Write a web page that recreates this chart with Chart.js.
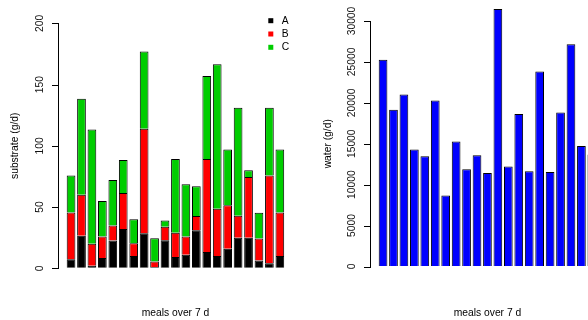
<!DOCTYPE html>
<html>
<head>
<meta charset="utf-8">
<script src="https://cdn.jsdelivr.net/npm/chart.js@4"></script>
<style>
  html, body { margin: 0; padding: 0; background: #fff; overflow: hidden; }
  body { width: 588px; height: 320px; position: relative; }
  .panel { position: absolute; top: 0; width: 294px; height: 320px; }
  #leftPanel { left: 0; }
  #rightPanel { left: 312px; }
</style>
</head>
<body>
<div class="panel" id="leftPanel"><canvas id="substrateChart" width="294" height="320"></canvas></div>
<div class="panel" id="rightPanel"><canvas id="waterChart" width="294" height="320"></canvas></div>
<script>
// meals (x positions) and values
const meals = [1, 2, 3, 4, 5, 6, 7, 8, 9, 10, 11, 12, 13, 14, 15, 16, 17, 18, 19, 20, 21];
const substrateA = [7.4, 26.5, 2, 8.5, 22.7, 32, 10, 28.7, 1, 23, 9.3, 11, 31, 13.4, 10, 16, 25, 25, 6.3, 4.1, 10];
const substrateB = [38.2, 33.5, 18, 17.5, 12.3, 29.5, 10.5, 85.3, 4.5, 11, 19.7, 15, 11.6, 75.9, 38.6, 35.4, 18, 49.6, 18, 71.6, 35.6];
const substrateC = [30.1, 78.5, 93.4, 29, 37, 27, 19.5, 63, 19.1, 5, 60.3, 42.6, 24.4, 67.7, 118, 45.6, 88, 5.4, 21.1, 55.3, 51.4];
const water = [25260, 19140, 21020, 14290, 13470, 20290, 8690, 15270, 11880, 13590, 11420, 31470, 12210, 18650, 11630, 23840, 11550, 18820, 27150, 14730, 13680];
const substrateTicks = [0, 50, 100, 150, 200];
const waterTicks = [0, 5000, 10000, 15000, 20000, 25000, 30000];

const FONT = '"Liberation Sans", Arial, Helvetica, sans-serif';
const FONT_SIZE = 10.3;

Chart.defaults.font.family = FONT;
Chart.defaults.font.size = FONT_SIZE;
Chart.defaults.color = '#000';
Chart.defaults.animation = false;

// R-style legend: small filled squares + labels, top right of the plot
const boxLegend = {
    id: 'boxLegend',
    afterDatasetsDraw(chart, args, opts) {
        if (!opts.show) return;
        const ctx = chart.ctx;
        ctx.save();
        ctx.font = FONT_SIZE + 'px ' + FONT;
        ctx.textBaseline = 'middle';
        ctx.textAlign = 'left';
        chart.data.datasets.forEach((ds, i) => {
            const y = opts.y + i * opts.spacing;
            ctx.fillStyle = ds.backgroundColor;
            ctx.fillRect(opts.x - 2.5, y - 2.5, 5, 5);
            ctx.fillStyle = '#000';
            ctx.fillText(ds.label, opts.x + 11, y);
        });
        ctx.restore();
    }
};

// y axis line + outward tick marks over the tick range only (like R's axis())
const rAxis = {
    id: 'rAxis',
    afterDatasetsDraw(chart) {
        const s = chart.scales.y;
        const ctx = chart.ctx;
        const x = Math.floor(chart.chartArea.left);
        const yTop = Math.round(s.getPixelForValue(s.max));
        const yBottom = Math.round(s.getPixelForValue(s.min));
        ctx.save();
        ctx.fillStyle = '#000';
        ctx.fillRect(x, yTop, 1, yBottom - yTop + 1);
        s.ticks.forEach(t => {
            const py = Math.round(s.getPixelForValue(t.value));
            ctx.fillRect(x - 6, py, 6, 1);
        });
        ctx.restore();
    }
};

// shared axis setup in the look of base R graphics
function makeScales(yTicks, yTitle, tickPad, titlePad, xHeight) {
    return {
        x: {
            type: 'linear',
            min: -0.25,
            max: 22.25,
            offset: false,
            stacked: true,
            afterBuildTicks: (scale) => { scale.ticks = meals.map(v => ({ value: v })); },
            afterFit: (scale) => { scale.height = xHeight; },
            ticks: { display: false },
            grid: { display: false, offset: false },
            border: { display: false },
            title: {
                display: true,
                text: 'meals over 7 d',
                padding: { top: 0, bottom: 1.1 }
            }
        },
        y: {
            min: yTicks[0],
            max: yTicks[yTicks.length - 1],
            stacked: true,
            afterBuildTicks: (scale) => { scale.ticks = yTicks.map(v => ({ value: v })); },
            afterFit: (scale) => { scale.width = 58; },
            ticks: {
                minRotation: 90,
                maxRotation: 90,
                crossAlign: 'center',
                padding: tickPad,
                color: '#111',
                callback: (v) => String(v)
            },
            // axis line and tick marks come from the rAxis plugin
            grid: {
                display: true,
                drawOnChartArea: false,
                drawTicks: true,
                tickLength: 6,
                color: 'rgba(0,0,0,0)'
            },
            border: { display: false },
            title: {
                display: true,
                text: yTitle,
                padding: { top: titlePad, bottom: 0 }
            }
        }
    };
}

const barStyle = { borderColor: '#000', borderWidth: 1, barPercentage: 1 / 1.2, categoryPercentage: 1 };

const substrateChart = new Chart(document.getElementById('substrateChart'), {
    type: 'bar',
    data: {
        labels: meals,
        datasets: [
            Object.assign({ label: 'A', data: substrateA, backgroundColor: '#000000' }, barStyle),
            Object.assign({ label: 'B', data: substrateB, backgroundColor: '#ff0000' }, barStyle),
            Object.assign({ label: 'C', data: substrateC, backgroundColor: '#00cd00' }, barStyle)
        ]
    },
    options: {
        responsive: false,
        layout: { padding: { top: 23.3, right: 1.1, left: 0, bottom: 0 } },
        scales: makeScales(substrateTicks, 'substrate (g/d)', 3.4, 8.8, 51.7),
        plugins: {
            legend: { display: false },
            tooltip: { enabled: false },
            boxLegend: { show: true, x: 270.8, y: 20.7, spacing: 13.3 }
        }
    },
    plugins: [rAxis, boxLegend]
});

const waterChart = new Chart(document.getElementById('waterChart'), {
    type: 'bar',
    data: {
        labels: meals,
        datasets: [Object.assign({
            label: 'water',
            data: water,
            backgroundColor: '#0000ff',
            clip: false
        }, barStyle)]
    },
    options: {
        responsive: false,
        layout: { padding: { top: 21, right: 1.1, left: 0, bottom: 0 } },
        scales: makeScales(waterTicks, 'water (g/d)', -2.3, 10.3, 53.5),
        plugins: {
            legend: { display: false },
            tooltip: { enabled: false }
        }
    },
    plugins: [rAxis]
});
</script>
</body>
</html>
